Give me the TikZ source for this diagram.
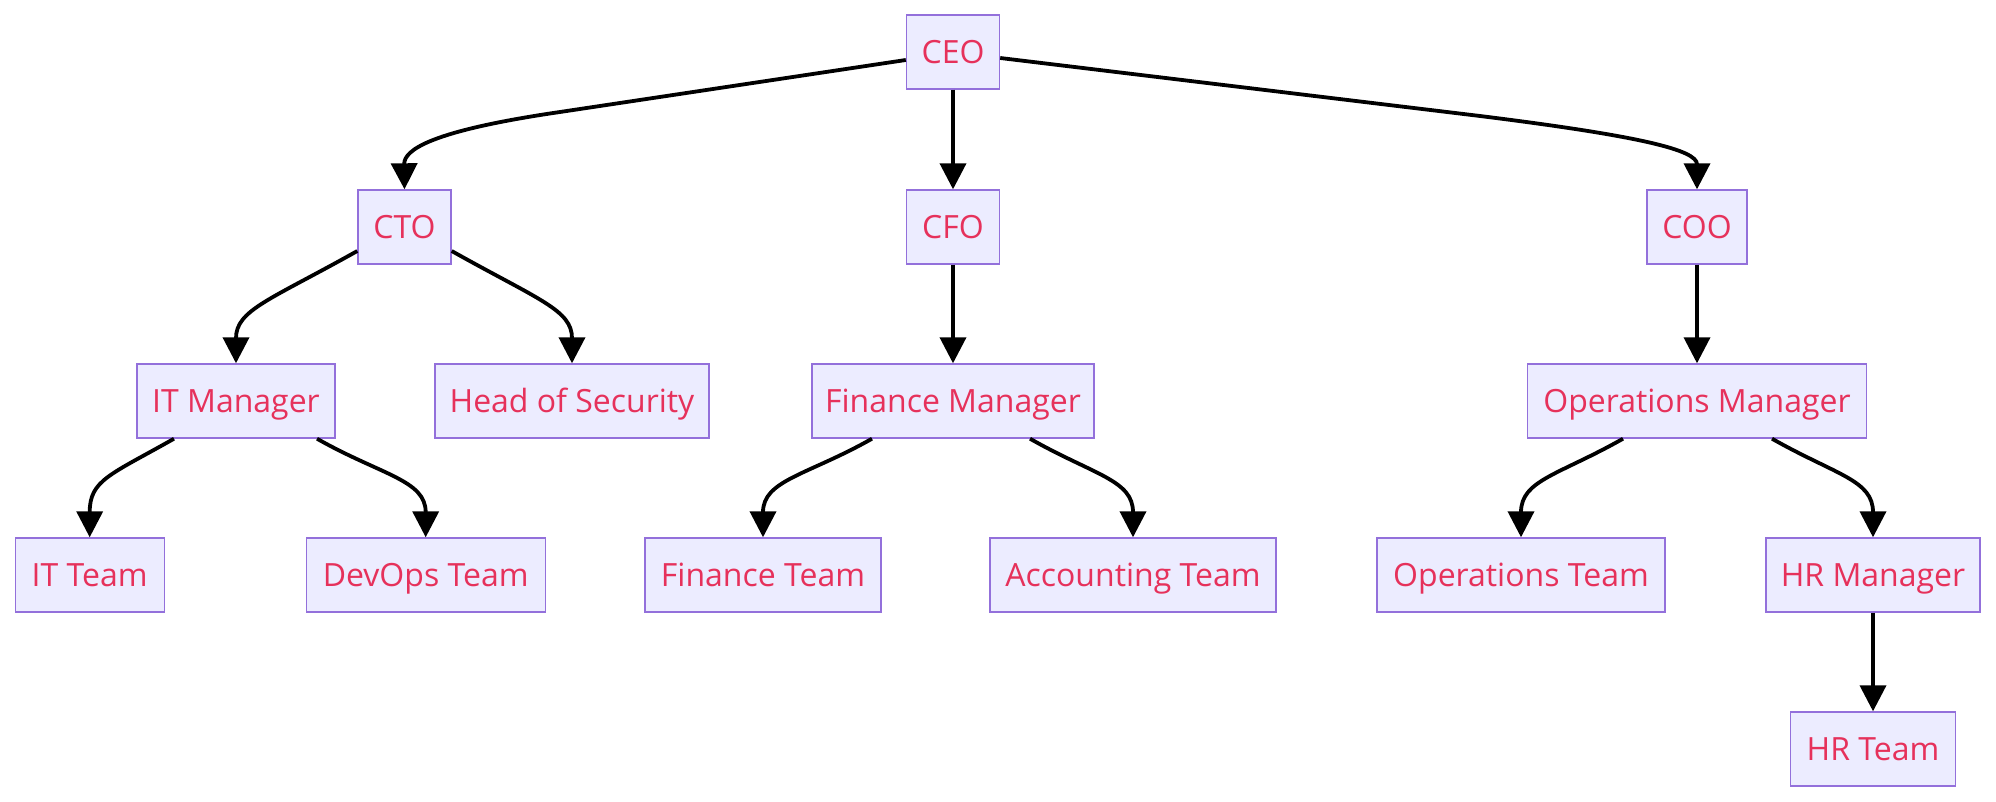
\documentclass[tikz,border=0pt]{standalone}
\usepackage{fontspec}
\setmainfont{Open Sans}
\usetikzlibrary{arrows.meta,calc}
\definecolor{boxfill}{HTML}{ECECFF}
\definecolor{boxline}{HTML}{9370DB}
\definecolor{boxtext}{HTML}{E6315B}
\begin{document}
\begin{tikzpicture}[x=0.5pt,y=-0.5pt,
  box/.style={draw=boxline,fill=boxfill,text=boxtext,line width=0.7pt,minimum height=37pt,inner sep=0pt,text height=12.4pt,text depth=1pt,font=\fontsize{16}{19}\selectfont},
  link/.style={line width=1.9pt,-{Triangle[width=13pt,length=13pt]}}]
\useasboundingbox (0,0) rectangle (1996,802);
\node[box,minimum width=46.5pt] (ceo) at (953,52) {CEO};
\node[box,minimum width=46.5pt] (cto) at (404.5,227) {CTO};
\node[box,minimum width=46.5pt] (cfo) at (953,227) {CFO};
\node[box,minimum width=50pt] (coo) at (1697,227) {COO};
\node[box,minimum width=99pt] (itm) at (236,401) {IT Manager};
\node[box,minimum width=137pt] (hos) at (572,401) {Head of Security};
\node[box,minimum width=141pt] (fm) at (953,401) {Finance Manager};
\node[box,minimum width=169.5pt] (om) at (1697,401) {Operations Manager};
\node[box,minimum width=74.5pt] (itteam) at (89.7,575) {IT Team};
\node[box,minimum width=119.5pt] (devops) at (425.7,575) {DevOps Team};
\node[box,minimum width=118pt] (finteam) at (763,575) {Finance Team};
\node[box,minimum width=143pt] (acct) at (1133,575) {Accounting Team};
\node[box,minimum width=144pt] (opsteam) at (1521,575) {Operations Team};
\node[box,minimum width=107pt] (hrm) at (1873,575) {HR Manager};
\node[box,minimum width=82.5pt] (hrteam) at (1873,749) {HR Team};
% edges
\draw[link] ($(ceo.west)+(0,8)$) -- (560,112) .. controls (430,131) and (404,150) .. (cto.north);
\draw[link] (ceo.south) -- (cfo.north);
\draw[link] ($(ceo.east)+(0,6)$) -- (1480,116) .. controls (1640,136) and (1697,150) .. (coo.north);
\draw[link] ($(cto.west)+(0,24)$) .. controls (270,300) and (236,310) .. (itm.north);
\draw[link] ($(cto.east)+(0,24)$) .. controls (539,300) and (572,310) .. (hos.north);
\draw[link] (cfo.south) -- (fm.north);
\draw[link] (coo.south) -- (om.north);
\draw[link] ($(itm.south)+(-62,0)$) .. controls (110,475) and (89.7,480) .. (itteam.north);
\draw[link] ($(itm.south)+(81,0)$) .. controls (381,475) and (425.7,480) .. (devops.north);
\draw[link] ($(fm.south)+(-81,0)$) .. controls (808,475) and (763,480) .. (finteam.north);
\draw[link] ($(fm.south)+(77,0)$) .. controls (1094,475) and (1133,480) .. (acct.north);
\draw[link] ($(om.south)+(-74,0)$) .. controls (1559,475) and (1521,480) .. (opsteam.north);
\draw[link] ($(om.south)+(75,0)$) .. controls (1836,475) and (1873,480) .. (hrm.north);
\draw[link] (hrm.south) -- (hrteam.north);
\end{tikzpicture}
\end{document}
